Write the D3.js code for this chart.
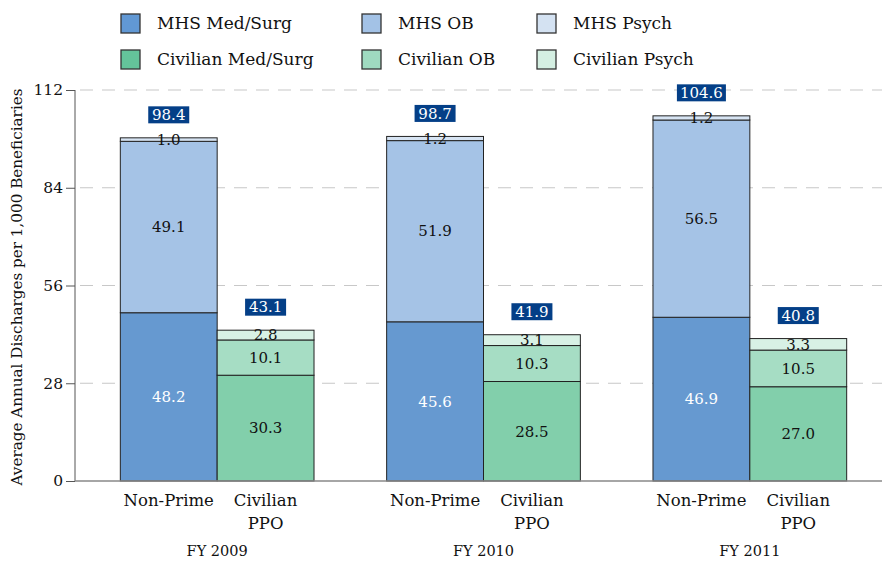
<!DOCTYPE html>
<html><head><meta charset="utf-8">
<script src="https://cdn.jsdelivr.net/npm/d3@7"></script>
<style>body{margin:0;background:#fff}svg{display:block}text{font-family:"DejaVu Serif",serif}</style>
</head><body><svg id="c" width="882" height="561"></svg>
<script>
const years = ["FY 2009", "FY 2010", "FY 2011"];
const barTypes = ["Non-Prime", "Civilian PPO"];
const yTicks = [0, 28, 56, 84, 112];
const mhsMedSurg = [48.2, 45.6, 46.9];
const mhsOB = [49.1, 51.9, 56.5];
const mhsPsych = [1.0, 1.2, 1.2];
const civMedSurg = [30.3, 28.5, 27.0];
const civOB = [10.1, 10.3, 10.5];
const civPsych = [2.8, 3.1, 3.3];
const mhsTotals = [98.4, 98.7, 104.6];
const civTotals = [43.1, 41.9, 40.8];
const legendNames = ["MHS Med/Surg", "MHS OB", "MHS Psych", "Civilian Med/Surg", "Civilian OB", "Civilian Psych"];

const colors = {
  "MHS Med/Surg": "#6699d0", "MHS OB": "#a5c3e6", "MHS Psych": "#d7e4f3",
  "Civilian Med/Surg": "#82cfab", "Civilian OB": "#a6ddc4", "Civilian Psych": "#d8f1e5"
};
const legendColors = {
  "MHS Med/Surg": "#6198d4", "MHS OB": "#a3c2e6", "MHS Psych": "#d4e2f2",
  "Civilian Med/Surg": "#64c49a", "Civilian OB": "#9fdac0", "Civilian Psych": "#d4efe2"
};
const FONT = "'DejaVu Serif', serif";

const svg = d3.select("#c");
const y = d3.scaleLinear().domain([0, 112]).range([481, 90]);
const x0 = d3.scaleBand().domain(years).range([84, 883]);
const x1 = d3.scaleBand().domain(barTypes).range([0, x0.bandwidth()]).paddingInner(0).paddingOuter(0.375);

svg.append("g").selectAll("line").data(yTicks.filter(d => d > 0)).join("line")
  .attr("x1", 80).attr("x2", 882).attr("y1", d => y(d)).attr("y2", d => y(d))
  .attr("stroke", "#c8c8c8").attr("stroke-width", 1.2).attr("stroke-dasharray", "13,9");

const yAxis = svg.append("g").attr("transform", "translate(75,0)")
  .call(d3.axisLeft(y).tickValues(yTicks).tickSize(9).tickPadding(3));
yAxis.attr("font-family", null);
yAxis.select(".domain").attr("stroke", "#555").attr("d", `M0,${y(112)}V${y(0)}`);
yAxis.selectAll(".tick line").attr("stroke", "#555");
yAxis.selectAll(".tick text").attr("font-size", 15.5).attr("fill", "#111").style("font-family", FONT);

const stacks = [];
years.forEach((yr, i) => {
  stacks.push({yr, type: "Non-Prime", total: mhsTotals[i], segs: [
    {name: "MHS Med/Surg", v: mhsMedSurg[i], white: true},
    {name: "MHS OB", v: mhsOB[i]},
    {name: "MHS Psych", v: mhsPsych[i]}]});
  stacks.push({yr, type: "Civilian PPO", total: civTotals[i], segs: [
    {name: "Civilian Med/Surg", v: civMedSurg[i]},
    {name: "Civilian OB", v: civOB[i]},
    {name: "Civilian Psych", v: civPsych[i]}]});
});
stacks.forEach(s => { let c = 0; s.segs.forEach(g => { g.y0 = c; c += g.v; g.y1 = c; }); s.top = c; });

const barG = svg.append("g");
stacks.forEach(s => {
  const bx = x0(s.yr) + x1(s.type), bw = x1.bandwidth();
  const g = barG.append("g");
  g.selectAll("rect").data(s.segs).join("rect")
    .attr("x", bx).attr("width", bw)
    .attr("y", d => y(d.y1)).attr("height", d => y(d.y0) - y(d.y1))
    .attr("fill", d => colors[d.name]).attr("stroke", "#222").attr("stroke-width", 1);
  g.selectAll("text").data(s.segs).join("text")
    .attr("x", bx + bw / 2).attr("y", d => (y(d.y0) + y(d.y1)) / 2)
    .attr("dy", "0.35em").attr("text-anchor", "middle").attr("font-size", 15)
    .attr("fill", d => d.white ? "#fff" : "#111").text(d => d.v.toFixed(1));
  const t = s.total.toFixed(1);
  const bwid = t.length > 4 ? 49 : 41;
  const by = y(s.top) - 14.5;
  g.append("rect").attr("x", bx + bw / 2 - bwid / 2).attr("y", by - 17).attr("width", bwid).attr("height", 17)
    .attr("fill", "#043f87");
  g.append("text").attr("x", bx + bw / 2).attr("y", by - 8.5).attr("dy", "0.35em")
    .attr("text-anchor", "middle").attr("font-size", 15).attr("fill", "#fff").text(t);
});

svg.append("line").attr("x1", 75).attr("x2", 882).attr("y1", y(0)).attr("y2", y(0))
  .attr("stroke", "#888").attr("stroke-width", 1.5);

years.forEach(yr => {
  barTypes.forEach(tp => {
    const cx = x0(yr) + x1(tp) + x1.bandwidth() / 2;
    const lines = tp === "Civilian PPO" ? ["Civilian", "PPO"] : [tp];
    lines.forEach((ln, k) => svg.append("text").attr("x", cx).attr("y", 506 + k * 23)
      .attr("text-anchor", "middle").attr("font-size", 16.5).attr("fill", "#111").text(ln));
  });
  svg.append("text").attr("x", x0(yr) + x0.bandwidth() / 2).attr("y", 556)
    .attr("text-anchor", "middle").attr("font-size", 14.5).attr("fill", "#111").text(yr);
});

svg.append("text").attr("transform", `translate(22,287) rotate(-90)`)
  .attr("text-anchor", "middle").attr("font-size", 15.2).attr("fill", "#111")
  .text("Average Annual Discharges per 1,000 Beneficiaries");

const legX = [121, 362, 537], legY = [23.5, 59.5];
legendNames.forEach((n, i) => {
  const col = i % 3, row = Math.floor(i / 3);
  svg.append("rect").attr("x", legX[col]).attr("y", legY[row] - 9.5).attr("width", 19).attr("height", 19)
    .attr("fill", legendColors[n]).attr("stroke", "#333").attr("stroke-width", 1.3);
  svg.append("text").attr("x", legX[col] + 36).attr("y", legY[row]).attr("dy", "0.35em")
    .attr("font-size", 17).attr("fill", "#111").text(n);
});
</script></body></html>
